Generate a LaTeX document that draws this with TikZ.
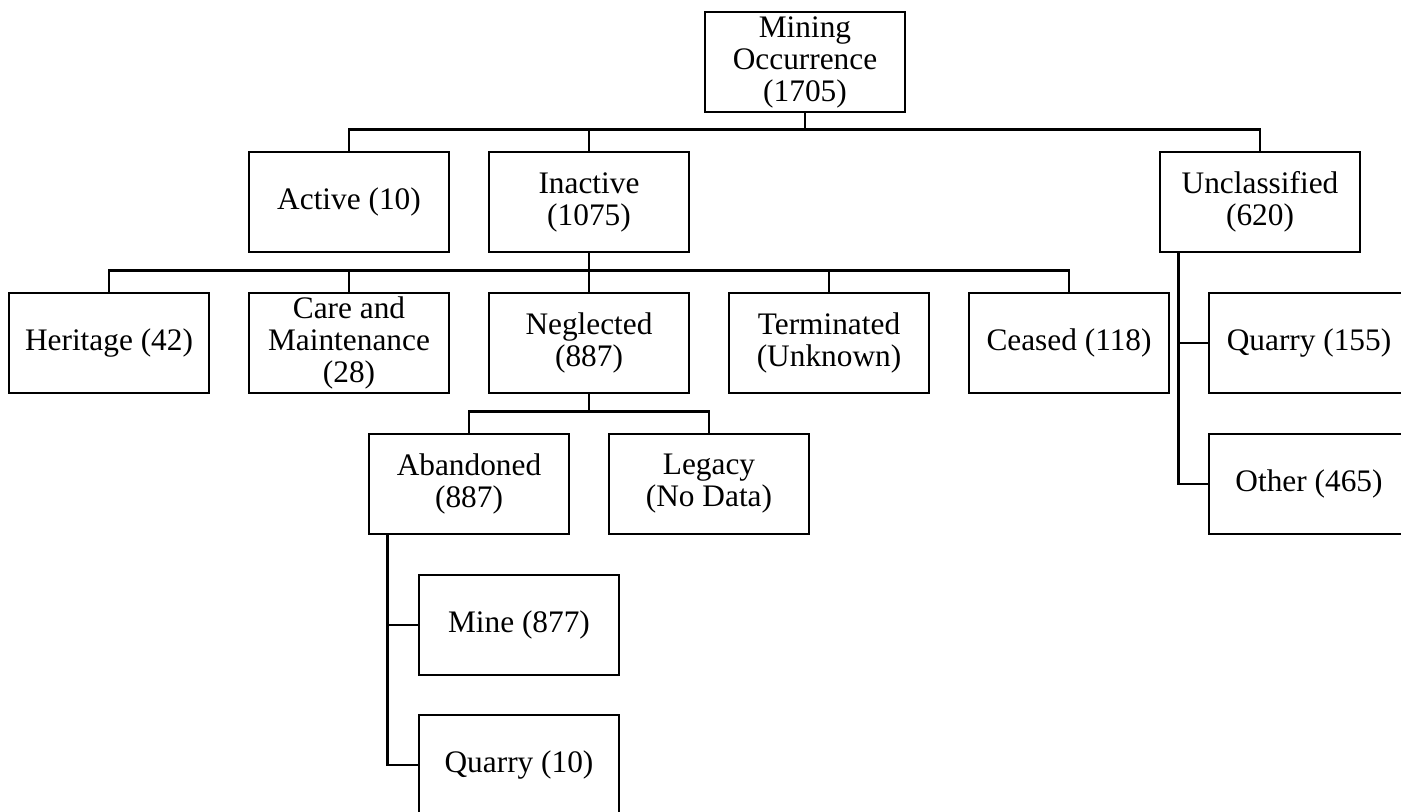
\documentclass[tikz,border=0pt]{standalone}
\usepackage{fontspec}
\setmainfont{Liberation Serif}
\begin{document}
\begin{tikzpicture}[x=0.75pt,y=-0.75pt,
  box/.style={draw,line width=2pt,minimum width=150pt,minimum height=75pt,
    inner sep=0pt,align=center,font=\fontsize{23.5}{24}\selectfont},
  link/.style={line width=2pt}]
\useasboundingbox (0,0) rectangle (1401,812);
\clip (0,0) rectangle (1401,812);
% top level
\node[box] (root) at (805,62) {Mining\\Occurrence\\(1705)};
% status
\node[box] (active) at (349,202) {Active (10)};
\node[box] (inactive) at (589,202) {Inactive\\(1075)};
\node[box] (unclass) at (1260,202) {Unclassified\\(620)};
% inactive categories
\node[box] (heritage) at (109,343) {Heritage (42)};
\node[box] (care) at (349,343) {Care and\\Maintenance\\(28)};
\node[box] (neglected) at (589,343) {Neglected\\(887)};
\node[box] (terminated) at (829,343) {Terminated\\(Unknown)};
\node[box] (ceased) at (1069,343) {Ceased (118)};
% unclassified types
\node[box] (uquarry) at (1309,343) {Quarry (155)};
\node[box] (other) at (1309,484) {Other (465)};
% neglected categories
\node[box] (abandoned) at (469,484) {Abandoned\\(887)};
\node[box] (legacy) at (709,484) {Legacy\\(No Data)};
% abandoned types
\node[box] (mine) at (519,625) {Mine (877)};
\node[box] (aquarry) at (519,765) {Quarry (10)};
% connectors
\foreach \c in {active,inactive,unclass}
  \draw[link] (\c.north) -- ++(0,-21) -| (root.south);
\foreach \c in {heritage,care,neglected,terminated,ceased}
  \draw[link] (\c.north) -- ++(0,-21) -| (inactive.south);
\foreach \c in {abandoned,legacy}
  \draw[link] (\c.north) -- ++(0,-21) -| (neglected.south);
\foreach \c in {mine,aquarry}
  \draw[link] (\c.west) -| ([xshift=15pt]abandoned.south west);
\foreach \c in {uquarry,other}
  \draw[link] (\c.west) -| ([xshift=15pt]unclass.south west);
\end{tikzpicture}
\end{document}
